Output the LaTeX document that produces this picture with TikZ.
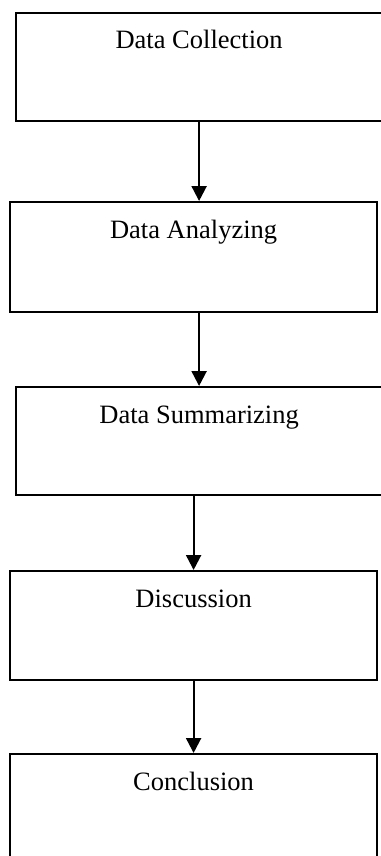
\documentclass[tikz,border=0pt]{standalone}
\usepackage{fontspec}
\setmainfont{Liberation Serif}
\usetikzlibrary{arrows.meta,calc}
\begin{document}
\begin{tikzpicture}[x=1pt,y=1pt,
  stagebox/.style={draw=black, line width=2.2pt, rectangle, inner sep=0pt, anchor=north west},
  stagetext/.style={anchor=base, font=\fontsize{26.5}{30}\selectfont, inner sep=0pt},
  flow/.style={line width=2.2pt, -{Triangle[width=15pt,length=15pt]}}]
\useasboundingbox (0,0) rectangle (380,-856);
\node[stagebox, minimum width=366pt, minimum height=108pt] (b1) at (15,-12) {};
\node[stagebox, minimum width=367pt, minimum height=110pt] (b2) at (9,-201) {};
\node[stagebox, minimum width=366pt, minimum height=108pt] (b3) at (15,-386) {};
\node[stagebox, minimum width=367pt, minimum height=109pt] (b4) at (9,-570) {};
\node[stagebox, minimum width=367pt, minimum height=110pt] (b5) at (9,-753) {};
\node[stagetext] (t1) at ($(b1.north)+(0,-37)$) {Data Collection};
\node[stagetext] (t2) at ($(b2.north)+(0,-37)$) {Data Analyzing};
\node[stagetext] (t3) at ($(b3.north)+(0,-37)$) {Data Summarizing};
\node[stagetext] (t4) at ($(b4.north)+(0,-37)$) {Discussion};
\node[stagetext] (t5) at ($(b5.north)+(0,-37)$) {Conclusion};
\draw[flow] (b1.south) -- (b1.south |- b2.north);
\draw[flow] (b3.north |- b2.south) -- (b3.north);
\draw[flow] (b4.north |- b3.south) -- (b4.north);
\draw[flow] (b4.south) -- (b4.south |- b5.north);
\end{tikzpicture}
\end{document}
